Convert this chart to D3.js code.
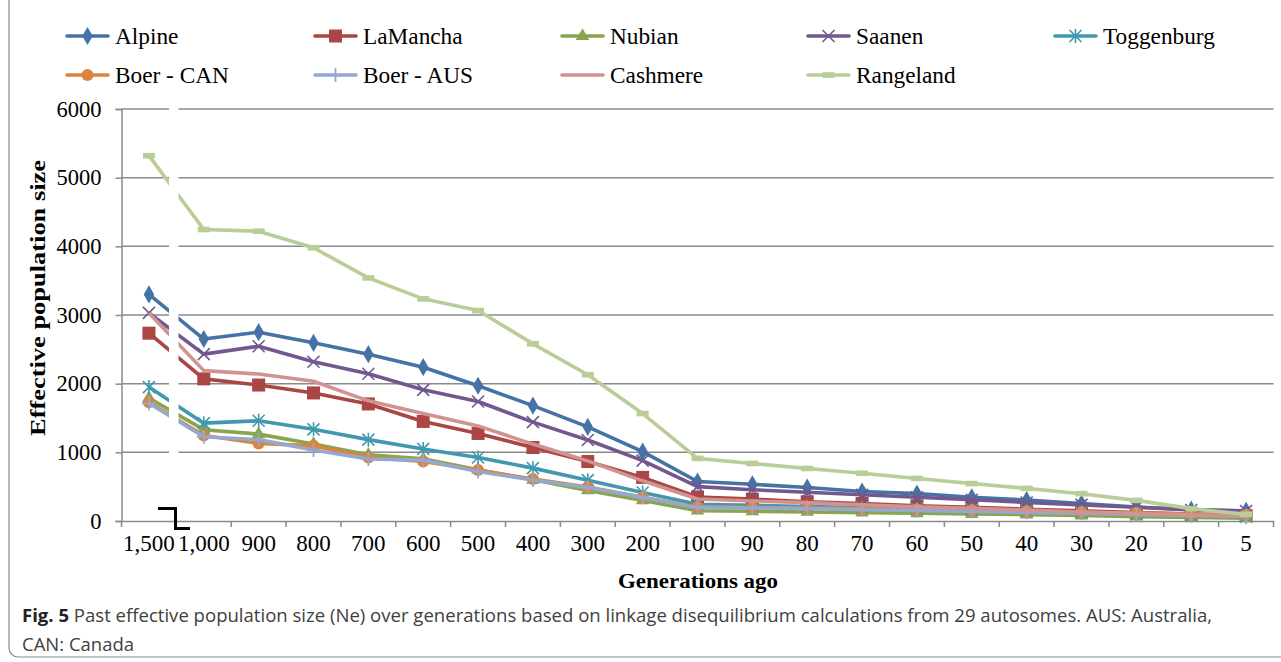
<!DOCTYPE html>
<html>
<head>
<meta charset="utf-8">
<script src="https://cdn.jsdelivr.net/npm/d3@7"></script>
<style>
  body { margin: 0; background: #fff; }
  svg { display: block; }
</style>
</head>
<body>
<div id="chart"></div>
<script>
// categories on the x axis (generations ago)
var generations = ["1,500", "1,000", "900", "800", "700", "600", "500", "400", "300", "200",
  "100", "90", "80", "70", "60", "50", "40", "30", "20", "10", "5"];

// Ne per breed, one value per generation
var alpine     = [3300, 2650, 2750, 2595, 2430, 2240, 1970, 1680, 1370, 1010, 575, 535, 488, 430, 398, 345, 305, 255, 205, 165, 150];
var laMancha   = [2735, 2070, 1980, 1865, 1705, 1450, 1275, 1070, 866, 635, 350, 318, 280, 255, 222, 198, 172, 148, 124, 100, 78];
var nubian     = [1790, 1330, 1265, 1120, 965, 905, 745, 600, 445, 300, 150, 142, 132, 122, 112, 102, 92, 80, 64, 52, 42];
var saanen     = [3030, 2430, 2545, 2320, 2145, 1910, 1740, 1440, 1180, 880, 500, 455, 418, 382, 345, 310, 270, 235, 200, 160, 145];
var toggenburg = [1950, 1425, 1460, 1335, 1185, 1050, 925, 770, 595, 415, 245, 228, 212, 196, 180, 165, 146, 126, 102, 82, 62];
var boerCan    = [1730, 1245, 1130, 1095, 925, 868, 742, 610, 496, 345, 205, 198, 190, 180, 170, 160, 142, 130, 120, 100, 90];
var boerAus    = [1715, 1228, 1185, 1035, 902, 886, 722, 596, 488, 342, 198, 190, 180, 166, 152, 140, 126, 112, 96, 80, 66];
var cashmere   = [3030, 2190, 2140, 2035, 1750, 1565, 1385, 1120, 875, 585, 320, 292, 268, 236, 206, 186, 158, 132, 108, 88, 70];
var rangeland  = [5320, 4245, 4220, 3980, 3540, 3235, 3065, 2580, 2130, 1565, 912, 838, 765, 695, 620, 545, 475, 398, 300, 180, 97];

var yTicks = [0, 1000, 2000, 3000, 4000, 5000, 6000];

var series = [
  { name: "Alpine", values: alpine, color: "#4572A7", marker: "diamond" },
  { name: "LaMancha", values: laMancha, color: "#AA4643", marker: "square" },
  { name: "Nubian", values: nubian, color: "#89A54E", marker: "triangle" },
  { name: "Saanen", values: saanen, color: "#71588F", marker: "x" },
  { name: "Toggenburg", values: toggenburg, color: "#4198AF", marker: "asterisk" },
  { name: "Boer - CAN", values: boerCan, color: "#DB843D", marker: "circle" },
  { name: "Boer - AUS", values: boerAus, color: "#93A9CF", marker: "plus" },
  { name: "Cashmere", values: cashmere, color: "#D19392", marker: "none" },
  { name: "Rangeland", values: rangeland, color: "#B9CD96", marker: "dash" }
];

var svgWidth = 1281, svgHeight = 662;
var plot = { left: 121.5, right: 1273.5, top: 109, bottom: 521 };
var serif = "'Liberation Serif', 'Times New Roman', serif";

var svg = d3.select("#chart").append("svg")
  .attr("width", svgWidth)
  .attr("height", svgHeight);

svg.append("rect").attr("width", svgWidth).attr("height", svgHeight).attr("fill", "#fff");

// outer figure frame
svg.append("rect")
  .attr("x", 9).attr("y", -20)
  .attr("width", 1290).attr("height", 677)
  .attr("rx", 9)
  .attr("fill", "none")
  .attr("stroke", "#8c8c8c")
  .attr("stroke-width", 1.2);

var x = d3.scaleBand().domain(generations).range([plot.left, plot.right]).padding(0);
var y = d3.scaleLinear().domain([0, 6000]).range([plot.bottom, plot.top]);

// gridlines
svg.append("g")
  .selectAll("line")
  .data(yTicks.filter(d => d > 0))
  .enter()
  .append("line")
  .attr("x1", plot.left).attr("x2", plot.right)
  .attr("y1", d => y(d)).attr("y2", d => y(d))
  .attr("stroke", "#8a8a8a")
  .attr("stroke-width", 1.5);

// y axis
var yAxis = d3.axisLeft(y).tickValues(yTicks).tickSize(6).tickPadding(14).tickFormat(d3.format("d"));
var yG = svg.append("g")
  .attr("transform", `translate(${plot.left},0)`)
  .call(yAxis);
yG.select(".domain").attr("stroke", "#8a8a8a").attr("stroke-width", 1.5);
yG.selectAll(".tick line").attr("stroke", "#8a8a8a").attr("stroke-width", 1.5);
yG.selectAll("text").attr("font-family", serif).attr("font-size", 22.5).attr("fill", "#000");

// x axis: labels centred in bands, ticks on band boundaries
var xAxis = d3.axisBottom(x).tickSize(0).tickPadding(14);
var xG = svg.append("g")
  .attr("transform", `translate(0,${plot.bottom})`)
  .call(xAxis);
xG.select(".domain").attr("stroke", "#8a8a8a").attr("stroke-width", 1.5);
xG.selectAll("text").attr("font-family", serif).attr("font-size", 23).attr("fill", "#000");

svg.append("g")
  .selectAll("line")
  .data(d3.range(generations.length + 1))
  .enter()
  .append("line")
  .attr("x1", i => plot.left + i * x.step())
  .attr("x2", i => plot.left + i * x.step())
  .attr("y1", plot.bottom).attr("y2", plot.bottom + 6)
  .attr("stroke", "#8a8a8a")
  .attr("stroke-width", 1.5);

// marker drawing
function drawMarker(g, type, color, cx, cy) {
  if (type === "diamond") {
    g.append("path").attr("d", d3.symbol().type(d3.symbolDiamond).size(95)())
      .attr("transform", `translate(${cx},${cy})`).attr("fill", color);
  } else if (type === "square") {
    g.append("rect").attr("x", cx - 6.5).attr("y", cy - 6.5).attr("width", 13).attr("height", 13)
      .attr("fill", color);
  } else if (type === "triangle") {
    g.append("path").attr("d", d3.symbol().type(d3.symbolTriangle).size(80)())
      .attr("transform", `translate(${cx},${cy})`).attr("fill", color);
  } else if (type === "circle") {
    g.append("circle").attr("cx", cx).attr("cy", cy).attr("r", 6).attr("fill", color);
  } else if (type === "x" || type === "asterisk") {
    var r = 6;
    var p = `M${cx - r},${cy - r}L${cx + r},${cy + r}M${cx - r},${cy + r}L${cx + r},${cy - r}`;
    if (type === "asterisk") p += `M${cx},${cy - r - 1}L${cx},${cy + r + 1}`;
    g.append("path").attr("d", p).attr("stroke", color).attr("stroke-width", 1.6).attr("fill", "none");
  } else if (type === "plus") {
    g.append("path").attr("d", `M${cx},${cy - 7}L${cx},${cy + 7}M${cx - 7},${cy}L${cx + 7},${cy}`)
      .attr("stroke", color).attr("stroke-width", 1.8).attr("fill", "none");
  } else if (type === "dash") {
    g.append("rect").attr("x", cx - 6).attr("y", cy - 2.8).attr("width", 12).attr("height", 5.6)
      .attr("fill", color);
  }
}

var line = d3.line()
  .x((d, i) => x(generations[i]) + x.bandwidth() / 2)
  .y(d => y(d));

series.forEach(function(s) {
  var g = svg.append("g");
  g.append("path")
    .datum(s.values)
    .attr("d", line)
    .attr("fill", "none")
    .attr("stroke", s.color)
    .attr("stroke-width", 3.6)
    .attr("stroke-linejoin", "round");
  s.values.forEach(function(v, i) {
    drawMarker(g, s.marker, s.color, x(generations[i]) + x.bandwidth() / 2, y(v));
  });
});

// axis break: white gap through the plot and break symbol
svg.append("rect")
  .attr("x", 169).attr("y", plot.top - 6)
  .attr("width", 9.5).attr("height", plot.bottom - plot.top + 2)
  .attr("fill", "#fff");
svg.append("path")
  .attr("d", "M158,508.5L175.5,508.5L175.5,528.5L190,528.5")
  .attr("fill", "none")
  .attr("stroke", "#000")
  .attr("stroke-width", 3);

// axis titles
svg.append("text")
  .attr("transform", "translate(45,298) rotate(-90)")
  .attr("text-anchor", "middle")
  .attr("font-family", serif)
  .attr("font-weight", "bold")
  .attr("font-size", 22)
  .attr("textLength", 276)
  .attr("lengthAdjust", "spacingAndGlyphs")
  .text("Effective population size");

svg.append("text")
  .attr("x", 698).attr("y", 588)
  .attr("text-anchor", "middle")
  .attr("font-family", serif)
  .attr("font-weight", "bold")
  .attr("font-size", 22)
  .attr("textLength", 160)
  .attr("lengthAdjust", "spacingAndGlyphs")
  .text("Generations ago");

// legend
var legendPos = [
  [67, 36], [315, 36], [562, 36], [808, 36], [1055, 36],
  [67, 75], [315, 75], [562, 75], [808, 75]
];
series.forEach(function(s, i) {
  var lx = legendPos[i][0], ly = legendPos[i][1];
  var g = svg.append("g");
  g.append("line")
    .attr("x1", lx).attr("x2", lx + 41)
    .attr("y1", ly).attr("y2", ly)
    .attr("stroke", s.color).attr("stroke-width", 3.6).attr("stroke-linecap", "round");
  drawMarker(g, s.marker, s.color, lx + 20.5, ly);
  g.append("text")
    .attr("x", lx + 48).attr("y", ly + 8)
    .attr("font-family", serif)
    .attr("font-size", 23.3)
    .text(s.name);
});

// caption
var cap = svg.append("text")
  .attr("x", 22).attr("y", 622)
  .attr("font-family", "'Open Sans', 'Noto Sans', sans-serif")
  .attr("font-size", 18.5)
  .attr("fill", "#404040")
  .attr("textLength", 1190)
  .attr("lengthAdjust", "spacingAndGlyphs");
cap.append("tspan").attr("font-weight", "bold").attr("fill", "#222").text("Fig. 5");
cap.append("tspan").text(" Past effective population size (Ne) over generations based on linkage disequilibrium calculations from 29 autosomes. AUS: Australia,");

svg.append("text")
  .attr("x", 22).attr("y", 651)
  .attr("font-family", "'Open Sans', 'Noto Sans', sans-serif")
  .attr("font-size", 18.5)
  .attr("fill", "#404040")
  .attr("textLength", 112)
  .attr("lengthAdjust", "spacingAndGlyphs")
  .text("CAN: Canada");
</script>
</body>
</html>
